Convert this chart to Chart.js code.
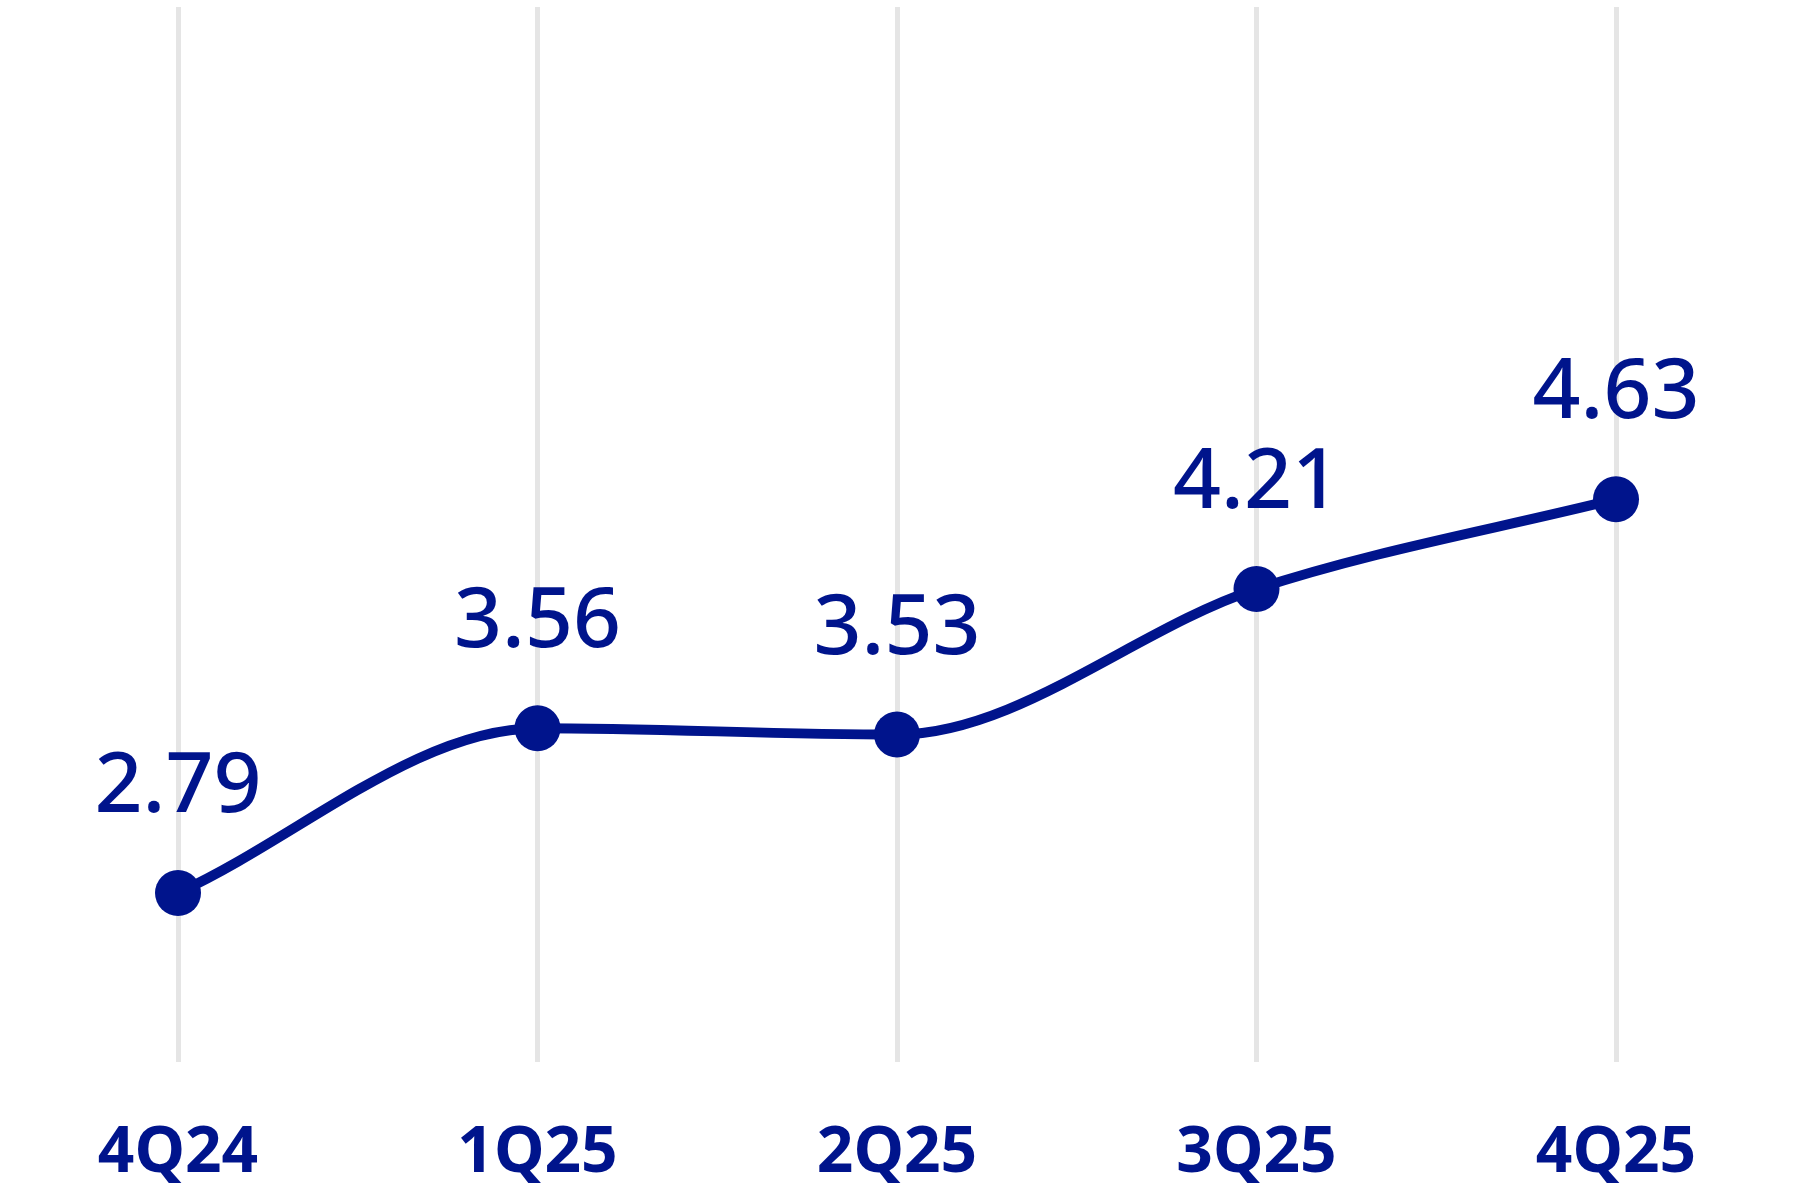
<!DOCTYPE html>
<html>
<head>
<meta charset="utf-8">
<script src="https://cdn.jsdelivr.net/npm/chart.js@4.4.0/dist/chart.umd.min.js"></script>
<style>
  html, body { margin: 0; padding: 0; background: #fff; }
  #wrap { width: 1800px; height: 1200px; }
</style>
</head>
<body>
<div id="wrap"><canvas id="chart" width="1800" height="1200"></canvas></div>
<script>
const quarters = ['4Q24', '1Q25', '2Q25', '3Q25', '4Q25'];
const values = [2.79, 3.56, 3.53, 4.21, 4.63];

const NAVY = '#00148c';

// etiquetas de valor encima de cada punto
const valueLabels = {
  id: 'valueLabels',
  afterDatasetsDraw(chart) {
    const ctx = chart.ctx;
    const meta = chart.getDatasetMeta(0);
    ctx.save();
    ctx.fillStyle = NAVY;
    ctx.font = '500 84px "Noto Sans"';
    ctx.textAlign = 'center';
    ctx.textBaseline = 'alphabetic';
    meta.data.forEach((pt, i) => {
      ctx.fillText(values[i].toFixed(2), pt.x, pt.y - 81);
    });
    ctx.restore();
  }
};

new Chart(document.getElementById('chart'), {
  type: 'line',
  data: {
    labels: quarters,
    datasets: [{
      data: values,
      borderColor: NAVY,
      backgroundColor: NAVY,
      borderWidth: 10,
      pointRadius: 23,
      pointBackgroundColor: NAVY,
      pointBorderWidth: 0,
      cubicInterpolationMode: 'monotone',
      clip: false
    }]
  },
  options: {
    responsive: false,
    animation: false,
    events: [],
    layout: { autoPadding: false, padding: { left: 178, right: 184, top: 7, bottom: 0 } },
    plugins: { legend: { display: false }, tooltip: { enabled: false } },
    scales: {
      x: {
        offset: false,
        border: { display: false },
        grid: { color: '#e5e5e5', lineWidth: 5, drawTicks: false },
        ticks: {
          color: NAVY,
          padding: 53,
          font: { family: '"Noto Sans"', size: 64, weight: 'bold' }
        },
        afterFit(scale) { scale.height = 138; }
      },
      y: {
        display: false,
        min: 2,
        max: 6.93
      }
    }
  },
  plugins: [valueLabels]
});
</script>
</body>
</html>
